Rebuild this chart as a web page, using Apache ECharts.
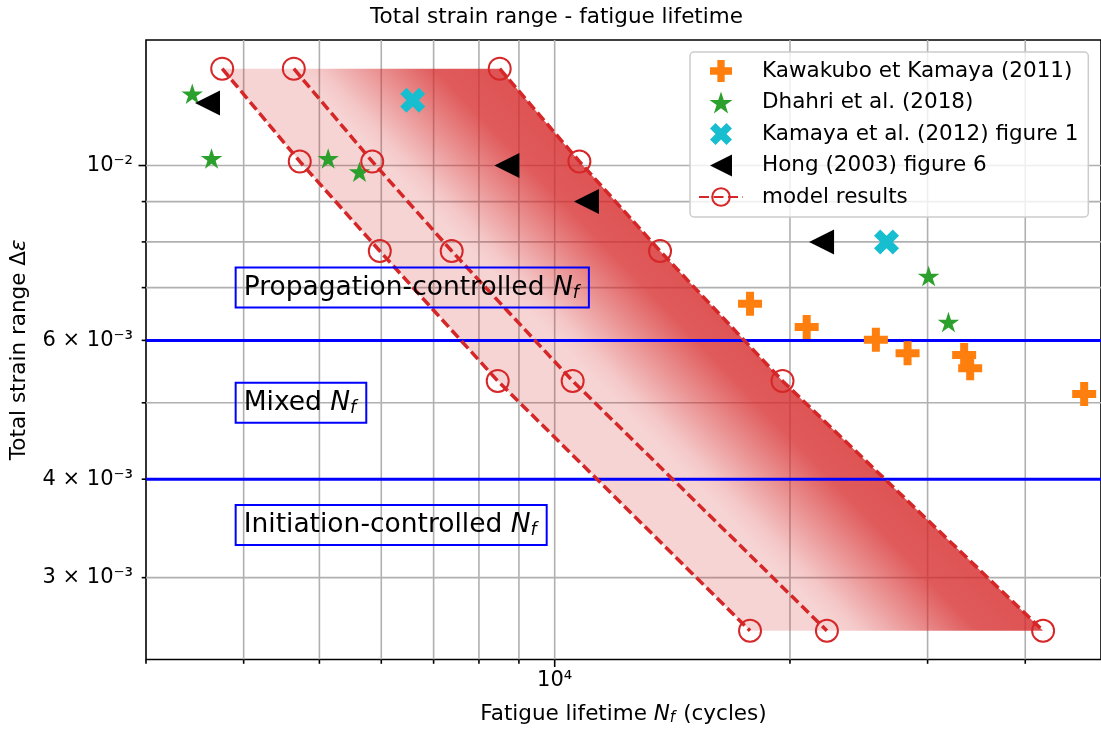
<!DOCTYPE html>
<html>
<head>
<meta charset="utf-8">
<script src="https://cdn.jsdelivr.net/npm/echarts@6/dist/echarts.min.js"></script>
<style>html,body{margin:0;padding:0;background:#fff}#c{width:1101px;height:731px}</style>
</head>
<body>
<div id="c"></div>
<script>
const FONT = 'DejaVu Sans';

// axis limits
const xLimits = [3000, 50000];
const yLimits = [0.002362, 0.01443];

// ticks and tick labels
const xTickValues = [3000, 4000, 5000, 6000, 7000, 8000, 9000, 10000, 20000, 30000, 40000];
const xMajorTicks = [10000];
const xTickLabelValues = [10000];
const xTickLabelTexts = ['10⁴'];
const yTickValues = [0.003, 0.004, 0.005, 0.006, 0.007, 0.008, 0.009, 0.01];
const yMajorTicks = [0.01];
const yTickLabelValues = [0.003, 0.004, 0.006, 0.01];
const yTickLabelTexts = ['3 × 10⁻³', '4 × 10⁻³', '6 × 10⁻³', '10⁻²'];

// experimental data
const kawakuboX = [17780, 21010, 25760, 28280, 33410, 34010, 47580];
const kawakuboY = [0.00668, 0.00624, 0.00601, 0.00578, 0.00575, 0.00553, 0.00513];
const dhahriX = [3438, 3639, 5131, 5627, 30090, 31900];
const dhahriY = [0.01233, 0.01021, 0.01021, 0.00982, 0.00724, 0.00633];
const kamayaX = [6582, 26580];
const kamayaY = [0.0121, 0.0080];
const hongX = [3596, 8686, 10980, 21950];
const hongY = [0.0120, 0.0100, 0.0090, 0.0080];

// model results
const modelStrain = [0.01327, 0.01012, 0.00779, 0.00533, 0.002569];
const modelLow = [3755, 4719, 5974, 8455, 17780];
const modelMid = [4637, 5842, 7383, 10544, 22300];
const modelHigh = [8505, 10755, 13640, 19565, 42160];

// regimes
const regimeBoundaries = [0.006, 0.004];
const regimeLabelX = [4000, 4000, 4000];
const regimeLabelY = [0.007, 0.005, 0.0035];
const regimeLabelNames = ['Propagation-controlled', 'Mixed', 'Initiation-controlled'];

const legendNames = ['Kawakubo et Kamaya (2011)', 'Dhahri et al. (2018)', 'Kamaya et al. (2012) figure 1', 'Hong (2003) figure 6', 'model results'];

const zip = (xs, ys) => xs.map((x, i) => [x, ys[i]]);

const plusPath = 'path://M1,0H2V1H3V2H2V3H1V2H0V1H1Z';
const xPath = 'path://M1,4L2,3L3,4L4,3L3,2L4,1L3,0L2,1L1,0L0,1L1,2L0,3Z';
const starPath = 'path://M0,-100L22.45,-30.9L95.11,-30.9L36.33,11.8L58.78,80.9L0,38.2L-58.78,80.9L-36.33,11.8L-95.11,-30.9L-22.45,-30.9Z';
const leftTriPath = 'path://M0,1L2,0L2,2Z';

// axis decoration items (gridlines, ticks, labels)
const axisItems = [];
xTickValues.forEach(v => axisItems.push({kind: 'tick', axis: 'x', v: v, major: xMajorTicks.indexOf(v) >= 0}));
yTickValues.forEach(v => axisItems.push({kind: 'tick', axis: 'y', v: v, major: yMajorTicks.indexOf(v) >= 0}));
xTickLabelValues.forEach((v, i) => axisItems.push({kind: 'label', axis: 'x', v: v, text: xTickLabelTexts[i]}));
yTickLabelValues.forEach((v, i) => axisItems.push({kind: 'label', axis: 'y', v: v, text: yTickLabelTexts[i]}));

function renderAxisItem(params, api) {
  const it = axisItems[params.dataIndex];
  const lo = api.coord([xLimits[0], yLimits[0]]);
  const hi = api.coord([xLimits[1], yLimits[1]]);
  const children = [];
  const gridStyle = {stroke: '#b0b0b0', lineWidth: 1.6};
  const tickStyle = {stroke: '#000', lineWidth: 1.6};
  if (it.axis === 'x') {
    const px = api.coord([it.v, yLimits[0]])[0];
    if (it.kind === 'tick') {
      const len = it.major ? 7.5 : 4.3;
      if (it.v > xLimits[0]) children.push({type: 'line', shape: {x1: px, y1: hi[1], x2: px, y2: lo[1]}, style: gridStyle});
      children.push({type: 'line', shape: {x1: px, y1: lo[1], x2: px, y2: lo[1] + len}, style: tickStyle});
    } else {
      children.push({type: 'text', style: {text: it.text, x: px, y: lo[1] + 11, align: 'center', verticalAlign: 'top', fontFamily: FONT, fontSize: 21, fill: '#000'}});
    }
  } else {
    const py = api.coord([xLimits[0], it.v])[1];
    if (it.kind === 'tick') {
      const len = it.major ? 7.5 : 4.3;
      children.push({type: 'line', shape: {x1: lo[0], y1: py, x2: hi[0], y2: py}, style: gridStyle});
      children.push({type: 'line', shape: {x1: lo[0] - len, y1: py, x2: lo[0], y2: py}, style: tickStyle});
    } else {
      children.push({type: 'text', style: {text: it.text, x: lo[0] - 13, y: py, align: 'right', verticalAlign: 'middle', fontFamily: FONT, fontSize: 21, fill: '#000'}});
    }
  }
  return {type: 'group', children: children};
}

function renderBand(params, api) {
  const A = modelLow.map((x, i) => api.coord([x, modelStrain[i]]));
  const B = modelMid.map((x, i) => api.coord([x, modelStrain[i]]));
  const C = modelHigh.map((x, i) => api.coord([x, modelStrain[i]]));
  const poly1 = A.concat(B.slice().reverse());
  const poly2 = B.concat(C.slice().reverse());
  const p = B[0], c0 = C[0], c1 = C[C.length - 1];
  const dx = c1[0] - c0[0], dy = c1[1] - c0[1];
  const t = ((p[0] - c0[0]) * dx + (p[1] - c0[1]) * dy) / (dx * dx + dy * dy);
  const foot = [c0[0] + t * dx, c0[1] + t * dy];
  const grad = new echarts.graphic.LinearGradient(p[0], p[1], foot[0], foot[1], [
    {offset: 0, color: 'rgba(214,39,40,0.2)'},
    {offset: 0.12, color: 'rgba(214,39,40,0.26)'},
    {offset: 0.68, color: 'rgba(214,39,40,0.76)'},
    {offset: 1, color: 'rgba(214,39,40,0.8)'}
  ], true);
  return {type: 'group', children: [
    {type: 'polygon', shape: {points: poly1}, style: {fill: 'rgba(214,39,40,0.2)'}},
    {type: 'polygon', shape: {points: poly2}, style: {fill: grad}}
  ]};
}

function renderBoundary(params, api) {
  const v = api.value(1);
  const a = api.coord([xLimits[0], v]);
  const b = api.coord([xLimits[1], v]);
  return {type: 'line', shape: {x1: a[0], y1: a[1], x2: b[0], y2: b[1]}, style: {stroke: '#0000ff', lineWidth: 3}};
}

function renderRegimeLabel(params, api) {
  const p = api.coord([api.value(0), api.value(1)]);
  const name = regimeLabelNames[params.dataIndex];
  const padL = 8;
  return {type: 'text', x: p[0] - padL, y: p[1], style: {
    text: '{t|' + name + ' }{n|N}{s|f}',
    align: 'left', verticalAlign: 'middle',
    borderColor: '#0000ff', borderWidth: 2, padding: [5, 10, 5, padL],
    fill: '#000',
    rich: {
      t: {fontFamily: FONT, fontSize: 26.5, lineHeight: 30, fill: '#000'},
      n: {fontFamily: FONT, fontSize: 26.5, lineHeight: 30, fontStyle: 'italic', fill: '#000'},
      s: {fontFamily: FONT, fontSize: 17.5, lineHeight: 18, fontStyle: 'italic', padding: [11, 0, 0, 0], fill: '#000'}
    }
  }};
}

const modelLine = (xs) => ({
  name: 'model results', type: 'line', data: zip(xs, modelStrain), z: 10, zlevel: 0,
  symbol: 'circle', symbolSize: 22, showSymbol: true, clip: false,
  itemStyle: {color: 'rgba(255,255,255,0)', borderColor: '#d62728', borderWidth: 2},
  lineStyle: {color: '#d62728', width: 3.5, type: [10, 4.5], opacity: 1},
  emphasis: {disabled: true}
});

const chart = echarts.init(document.getElementById('c'), null, {renderer: 'canvas'});
chart.setOption({
  animation: false,
  backgroundColor: '#fff',
  title: {
    text: 'Total strain range - fatigue lifetime', left: 556.5, top: 6, textAlign: 'center', padding: 0,
    textStyle: {fontFamily: FONT, fontSize: 21.5, fontWeight: 'normal', color: '#000'}
  },
  grid: {left: 146, right: -2, top: 40, bottom: 70, show: true, borderColor: '#000', borderWidth: 1.6, backgroundColor: 'transparent'},
  legend: {
    orient: 'vertical', left: 690, top: 52, itemWidth: 44, itemHeight: 22, itemGap: 9.5,
    padding: [8, 10, 9, 8], backgroundColor: 'rgba(255,255,255,0.8)', borderColor: '#cccccc', borderWidth: 1.5, borderRadius: 4,
    textStyle: {fontFamily: FONT, fontSize: 21.5, color: '#000', lineHeight: 22, padding: [0, 0, 0, 14]},
    selectedMode: false,
    data: [
      {name: legendNames[0]},
      {name: legendNames[1]},
      {name: legendNames[2]},
      {name: legendNames[3], icon: leftTriPath},
      {name: legendNames[4]}
    ]
  },
  xAxis: {
    type: 'log', logBase: 10, min: xLimits[0], max: xLimits[1],
    axisLine: {show: false}, axisTick: {show: false}, axisLabel: {show: false}, splitLine: {show: false},
    name: '{t|Fatigue lifetime }{n|N}{s|f}{c|(cycles)}', nameLocation: 'middle', nameGap: 42,
    nameTextStyle: {fontFamily: FONT, fontSize: 21.5, color: '#000', rich: {
      t: {fontFamily: FONT, fontSize: 21.5, lineHeight: 25, color: '#000'},
      c: {fontFamily: FONT, fontSize: 21.5, lineHeight: 25, color: '#000', padding: [0, 0, 0, 8]},
      n: {fontFamily: FONT, fontSize: 21.5, lineHeight: 25, fontStyle: 'italic', color: '#000'},
      s: {fontFamily: FONT, fontSize: 15, lineHeight: 15, fontStyle: 'italic', padding: [9, 0, 0, 0], color: '#000'}
    }}
  },
  yAxis: {
    type: 'log', logBase: 10, min: yLimits[0], max: yLimits[1],
    axisLine: {show: false}, axisTick: {show: false}, axisLabel: {show: false}, splitLine: {show: false},
    name: '{t|Total strain range Δ}{e|ε}', nameLocation: 'middle', nameGap: 114, nameRotate: 90,
    nameTextStyle: {fontFamily: FONT, fontSize: 21.5, color: '#000', rich: {
      t: {fontFamily: FONT, fontSize: 21.5, lineHeight: 25, color: '#000'},
      e: {fontFamily: FONT, fontSize: 21.5, lineHeight: 25, fontStyle: 'italic', color: '#000'}
    }}
  },
  series: [
    {type: 'custom', name: 'axes', silent: true, z: 1, clip: false, renderItem: renderAxisItem,
     data: axisItems.map(it => it.axis === 'x' ? [it.v, yLimits[0]] : [xLimits[0], it.v])},
    {type: 'custom', name: 'band', silent: true, z: 2, renderItem: renderBand, data: [[modelMid[0], modelStrain[0]]]},
    {type: 'custom', name: 'boundaries', silent: true, z: 3, renderItem: renderBoundary, data: regimeBoundaries.map(v => [xLimits[0], v])},
    modelLine(modelLow), modelLine(modelMid), modelLine(modelHigh),
    {name: legendNames[0], type: 'scatter', z: 5, data: zip(kawakuboX, kawakuboY), symbol: plusPath, symbolSize: 24, symbolKeepAspect: true, itemStyle: {color: '#ff7f0e', opacity: 1}},
    {name: legendNames[1], type: 'scatter', z: 5, data: zip(dhahriX, dhahriY), symbol: starPath, symbolSize: 21.5, symbolKeepAspect: true, itemStyle: {color: '#2ca02c', opacity: 1}},
    {name: legendNames[2], type: 'scatter', z: 5, data: zip(kamayaX, kamayaY), symbol: xPath, symbolSize: 25, symbolKeepAspect: true, itemStyle: {color: '#17becf', opacity: 1}},
    {name: legendNames[3], type: 'scatter', z: 5, data: zip(hongX, hongY), symbol: 'triangle', symbolRotate: 90, symbolSize: 25, itemStyle: {color: '#000000', opacity: 1}},
    {type: 'custom', name: 'regimes', silent: true, z: 12, clip: false, renderItem: renderRegimeLabel, data: zip(regimeLabelX, regimeLabelY)}
  ]
});
</script>
</body>
</html>
